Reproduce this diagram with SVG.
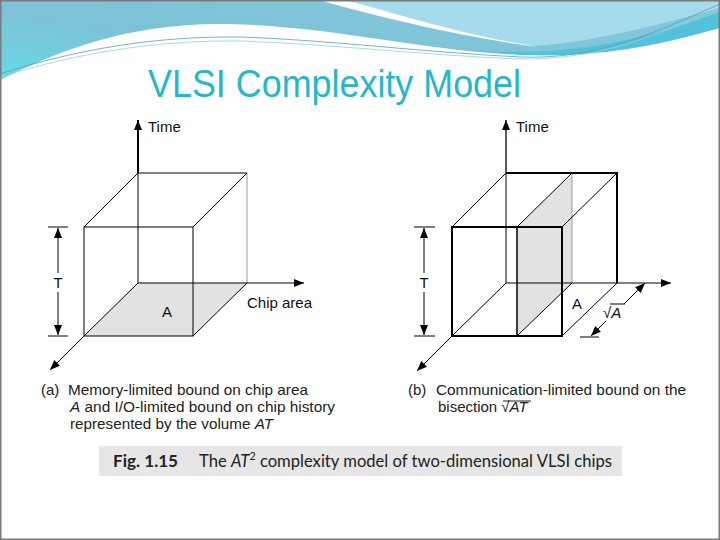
<svg xmlns="http://www.w3.org/2000/svg" width="720" height="540" viewBox="0 0 720 540">
<defs>
<linearGradient id="hdr" x1="0" y1="1" x2="1" y2="0">
<stop offset="0" stop-color="#5fe3ec"/><stop offset="0.45" stop-color="#7cc2d6"/><stop offset="1" stop-color="#86c9dc"/>
</linearGradient>
<marker id="ah" viewBox="0 0 10 8" refX="10" refY="4" markerWidth="10" markerHeight="8" markerUnits="userSpaceOnUse" orient="auto"><path d="M0,0 L10,4 L0,8 Z" fill="#000"/></marker>
<style>
.ln{stroke:#000;stroke-width:1;fill:none}
.tk{stroke:#000;stroke-width:2;fill:none}
.lt{stroke:#9a9a9a;stroke-width:1;fill:none}
.ax{stroke:#000;stroke-width:1;fill:none;marker-end:url(#ah)}
.gr{fill:#e2e2e2;stroke:none}
.lbl{font-family:"Liberation Sans",Arial,sans-serif;font-size:15px;fill:#111}
.cap{font-family:"Liberation Sans",Arial,sans-serif;font-size:15px;fill:#222}
.fig{font-family:"Lato","Open Sans",sans-serif;font-size:17px;fill:#222}
.it{font-style:italic}
</style>
</defs>

<g id="background">
<rect x="0" y="0" width="720" height="540" fill="#ffffff"/>
<rect x="0" y="0" width="720" height="110" fill="url(#hdr)"/>
<path d="M340,0 H720 V8 C640,30 580,44 530,46 C460,36 400,16 340,0 Z" fill="#a6dbeb"/>
<path d="M318,0 H346 C410,18 470,36 538,47 C455,36 385,18 318,0 Z" fill="#ffffff"/>
<path d="M470,50 C560,58 640,42 720,12 V28 C660,46 600,58 520,55 Z" fill="#52c2da"/>
<path d="M0,80 C60,50 130,22 230,24 C330,26 420,50 520,55 C600,58 660,45 720,28 V540 H0 Z" fill="#ffffff"/>
<path d="M0,74 C80,48 160,36 240,37 C330,40 420,52 520,57 C600,60 660,30 720,4" fill="none" stroke="#5d9db2" stroke-width="0.8"/>
<path d="M0,77 C80,52 160,40 240,41 C330,44 420,55 520,59 C610,60 670,28 720,8" fill="none" stroke="#8fd2e2" stroke-width="0.8"/>
<rect x="0.75" y="0.75" width="718.5" height="538.5" fill="none" stroke="#7a7a7a" stroke-width="1.5"/>
</g>

<g id="title">
<text x="148" y="97" font-family="'Liberation Sans',Arial,sans-serif" font-size="39" fill="#27b7c8" textLength="373" lengthAdjust="spacingAndGlyphs">VLSI Complexity Model</text>
</g>

<g id="cube-a">
<polygon class="gr" points="138,283 247,283 193,336 84,336"/>
<line class="lt" x1="247" y1="173" x2="247" y2="283"/>
<line class="ln" x1="138" y1="173" x2="138" y2="283"/>
<line class="ln" x1="138" y1="173" x2="247" y2="173"/>
<line class="ln" x1="84" y1="227" x2="138" y2="173"/>
<line class="ln" x1="193" y1="227" x2="247" y2="173"/>
<line class="ln" x1="84" y1="336" x2="138" y2="283"/>
<line class="ln" x1="193" y1="336" x2="247" y2="283"/>
<rect class="ln" x="84" y="227" width="109" height="109"/>
<text class="lbl" x="162" y="317">A</text>
</g>

<g id="axes-a">
<line class="ax" x1="138" y1="173" x2="138" y2="120" style="stroke-width:2"/>
<line class="ax" x1="138" y1="283" x2="304" y2="283"/>
<line class="ax" x1="84" y1="336" x2="50" y2="370"/>
<text class="lbl" x="148" y="132">Time</text>
<text class="lbl" x="247" y="308">Chip area</text>
</g>

<g id="dim-T-a">
<line class="ln" x1="48" y1="227" x2="68" y2="227"/>
<line class="ln" x1="48" y1="336" x2="68" y2="336"/>
<line class="ax" x1="58" y1="273" x2="58" y2="228"/>
<line class="ax" x1="58" y1="292" x2="58" y2="335"/>
<text class="lbl" x="58" y="288" text-anchor="middle">T</text>
</g>

<g id="cube-b">
<polygon class="gr" points="517,227 572,173 572,283 517,336"/>
<line class="lt" x1="572" y1="173" x2="572" y2="283"/>
<line class="ln" x1="506" y1="173" x2="506" y2="283"/>
<line class="ln" x1="452" y1="227" x2="506" y2="173"/>
<line class="ln" x1="517" y1="227" x2="572" y2="173"/>
<line class="ln" x1="562" y1="227" x2="617" y2="173"/>
<line class="ln" x1="452" y1="336" x2="506" y2="283"/>
<line class="ln" x1="517" y1="336" x2="572" y2="283"/>
<line class="ln" x1="562" y1="336" x2="617" y2="283"/>
<line class="tk" x1="506" y1="173" x2="617" y2="173"/>
<line class="tk" x1="617" y1="172" x2="617" y2="283"/>
<line class="ln" x1="517" y1="227" x2="517" y2="336" style="stroke-width:1.5"/>
<rect class="tk" x="452" y="227" width="110" height="109"/>
<text class="lbl" x="572" y="309">A</text>
</g>

<g id="axes-b">
<line class="ax" x1="506" y1="173" x2="506" y2="120" style="stroke-width:1.3"/>
<line class="ax" x1="506" y1="283" x2="671" y2="283"/>
<line class="ax" x1="452" y1="336" x2="417" y2="371"/>
<text class="lbl" x="516" y="132">Time</text>
</g>

<g id="dim-T-b">
<line class="ln" x1="414" y1="227" x2="435" y2="227"/>
<line class="ln" x1="414" y1="336" x2="435" y2="336"/>
<line class="ax" x1="424" y1="273" x2="424" y2="228"/>
<line class="ax" x1="424" y1="292" x2="424" y2="335"/>
<text class="lbl" x="424" y="288" text-anchor="middle">T</text>
</g>

<g id="dim-sqrtA">
<line class="ln" x1="580" y1="337" x2="599" y2="337"/>
<line class="ax" x1="624" y1="304" x2="645" y2="283"/>
<line class="ax" x1="606" y1="321" x2="591" y2="336"/>
<text class="lbl" x="603" y="318">√<tspan class="it">A</tspan></text>
<line class="ln" x1="610" y1="304" x2="625" y2="304"/>
</g>

<g id="captions">
<text class="cap" x="41" y="395">(a)</text>
<text class="cap" x="68" y="395" textLength="240" lengthAdjust="spacingAndGlyphs">Memory-limited bound on chip area</text>
<text class="cap" x="70" y="412" textLength="265" lengthAdjust="spacingAndGlyphs"><tspan class="it">A</tspan> and I/O-limited bound on chip history</text>
<text class="cap" x="70" y="429" textLength="203" lengthAdjust="spacingAndGlyphs">represented by the volume <tspan class="it">AT</tspan></text>
<text class="cap" x="408" y="395">(b)</text>
<text class="cap" x="436" y="395" textLength="250" lengthAdjust="spacingAndGlyphs">Communication-limited bound on the</text>
<text class="cap" x="438" y="412">bisection √<tspan class="it">AT</tspan></text>
<line x1="503" y1="401" x2="531" y2="401" stroke="#222" stroke-width="1"/>
</g>

<g id="fig-caption">
<rect x="99" y="446" width="523" height="30" fill="#e6e6e6"/>
<text class="fig" x="113" y="467" font-weight="bold" textLength="65" lengthAdjust="spacingAndGlyphs">Fig. 1.15</text>
<text class="fig" x="199" y="467" textLength="413" lengthAdjust="spacingAndGlyphs">The <tspan class="it">AT</tspan><tspan font-size="11" dy="-7">2</tspan><tspan dy="7"> complexity model of two-dimensional VLSI chips</tspan></text>
</g>
</svg>
